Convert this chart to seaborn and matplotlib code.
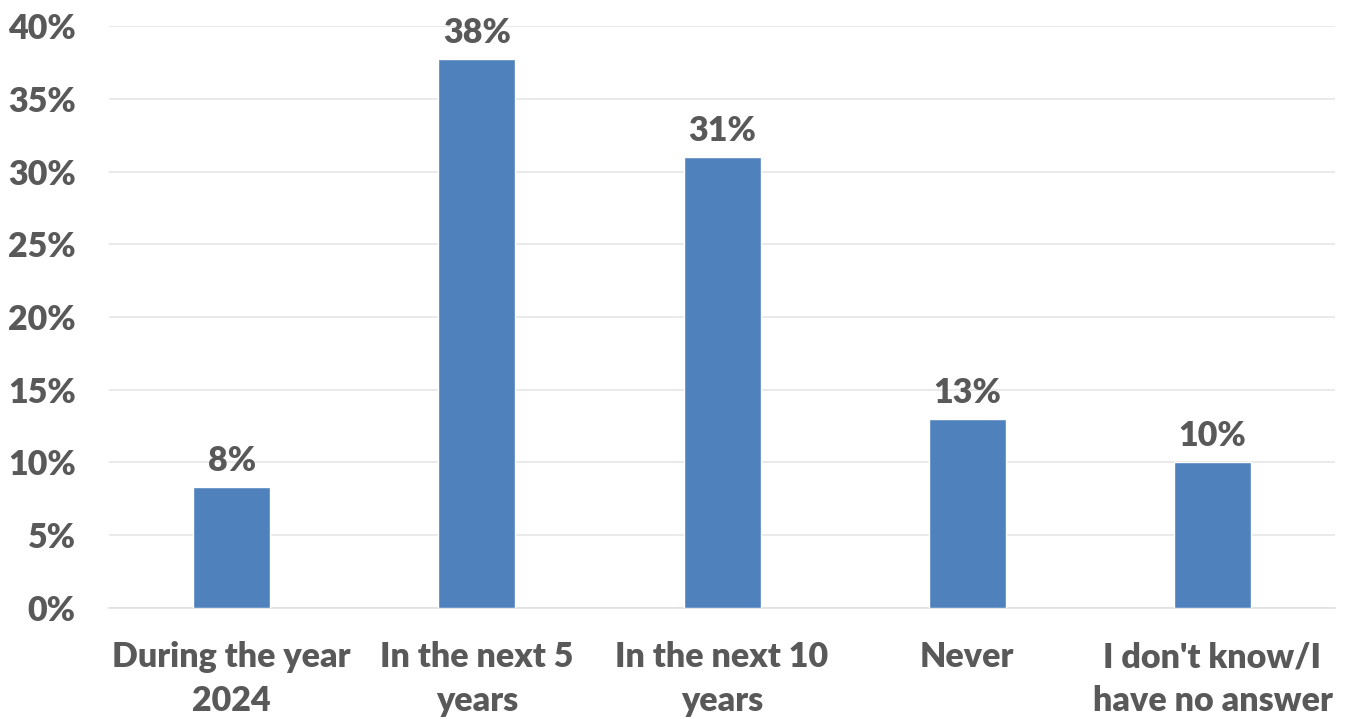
import matplotlib
matplotlib.use("Agg")
import matplotlib.pyplot as plt
import seaborn as sns
import pandas as pd

categories = ["During the year\n2024", "In the next 5\nyears", "In the next 10\nyears", "Never", "I don't know/I\nhave no answer"]
values = [8.3, 37.7, 31.0, 13.0, 10.0]
labels = ["8%", "38%", "31%", "13%", "10%"]
yticks = [0, 5, 10, 15, 20, 25, 30, 35, 40]

sns.set_theme(style="white")
plt.rcParams['font.family'] = ['Lato', 'DejaVu Sans']
TXT = "#595959"
FS = 24.5

df = pd.DataFrame({"cat": categories, "val": values})
fig = plt.figure(figsize=(13.54, 7.19), dpi=100)
ax = fig.add_axes([0.0805, 0.1544, 0.9055, 0.8094])
sns.barplot(data=df, x="cat", y="val", color="#4F81BD", saturation=1, width=0.314, ax=ax, zorder=3)
ax.set_ylim(0, 40)
ax.set_xlim(-0.5, 4.5)
ax.set_yticks(yticks)
ax.set_yticklabels([f"{t}%" for t in yticks])
ax.grid(axis="y", color="#E6E6E6", linewidth=1.2, zorder=0)
for s in ["top", "right", "left"]:
    ax.spines[s].set_visible(False)
ax.spines["bottom"].set_color("#E0E0E0")
ax.spines["bottom"].set_linewidth(1.2)
ax.set_xlabel("")
ax.set_ylabel("")
ax.tick_params(axis="both", length=0, labelcolor=TXT, labelsize=FS)
for lab in ax.get_xticklabels() + ax.get_yticklabels():
    lab.set_fontweight("heavy")
for lab in ax.get_xticklabels():
    lab.set_linespacing(1.45)
ax.tick_params(axis="x", pad=24)
ax.tick_params(axis="y", pad=24)
for i, (v, l) in enumerate(zip(values, labels)):
    ax.text(i, v + 0.7, l, ha="center", va="bottom", fontsize=FS, fontweight="heavy", color=TXT)
fig.savefig("out.png", dpi=100)
